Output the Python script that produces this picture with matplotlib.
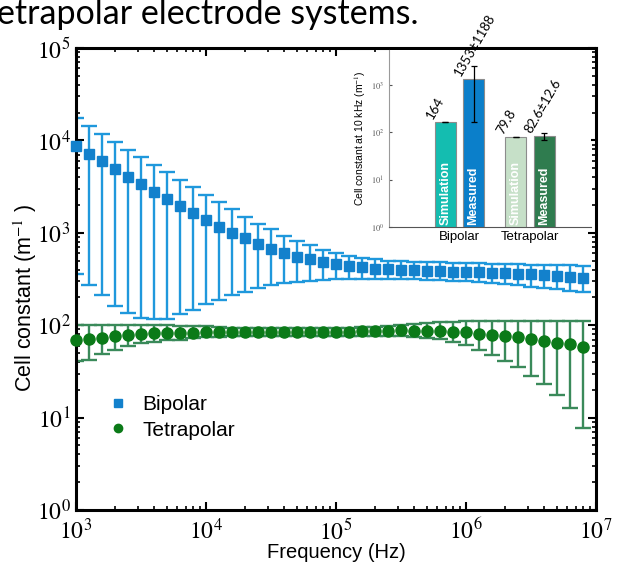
import matplotlib
matplotlib.use("Agg")
import matplotlib.pyplot as plt
import numpy as np
from matplotlib.ticker import FuncFormatter, LogLocator, NullFormatter

plt.rcParams['font.family'] = ['Liberation Sans', 'DejaVu Sans']
plt.rcParams['mathtext.fontset'] = 'stix'

# frequency points (log10 Hz)
log_freq = [3.0, 3.1, 3.2, 3.3, 3.4, 3.5, 3.6, 3.7, 3.8, 3.9,
            4.0, 4.1, 4.2, 4.3, 4.4, 4.5, 4.6, 4.7, 4.8, 4.9,
            5.0, 5.1, 5.2, 5.3, 5.4, 5.5, 5.6, 5.7, 5.8, 5.9,
            6.0, 6.1, 6.2, 6.3, 6.4, 6.5, 6.6, 6.7, 6.8, 6.9]

# bipolar: mean, lower and upper ends of the error bar
bip_mean = [8700, 7200, 6000, 4900, 4050, 3400, 2780, 2330, 1950, 1620,
            1380, 1170, 985, 870, 755, 665, 600, 553, 515, 482,
            460, 440, 423, 408, 402, 399, 393, 386, 386, 380,
            377, 373, 370, 364, 361, 356, 349, 343, 335, 327]
bip_low = [355, 275, 210, 163, 137, 121, 116, 117, 132, 145,
           168, 187, 210, 230, 255, 270, 285, 292, 300, 308,
           314, 316, 319, 319, 319, 316, 314, 311, 308, 303,
           298, 294, 287, 279, 270, 261, 253, 245, 236, 229]
bip_high = [17400, 14400, 11800, 9600, 7900, 6650, 5400, 4500, 3730, 3100,
            2570, 2140, 1800, 1490, 1250, 1090, 930, 820, 730, 655,
            605, 563, 530, 516, 499, 491, 486, 483, 479, 475,
            471, 467, 463, 459, 456, 452, 452, 449, 445, 440]

# tetrapolar
tet_mean = [70, 71, 73, 76, 79, 81, 82, 82, 82, 83,
            84, 84, 84, 84, 84, 84, 84, 84, 85, 85,
            85, 85, 86, 87, 87, 88, 87, 87, 87, 85,
            84, 80, 79, 77, 74, 71, 68, 65, 62, 58]
tet_low = [41, 42, 49, 54, 60, 64, 66, 69, 70, 72,
           74, 75, 76, 76, 77, 77, 77, 77, 77, 77,
           77, 76, 76, 76, 76, 76, 75, 73, 71, 66,
           61, 54, 48, 41, 35, 28, 23, 17.6, 12.8, 7.8]
tet_high = [101, 100, 100, 100, 100, 100, 100, 100, 99, 99,
            99, 96, 94, 94, 94, 94, 94, 94, 94, 94,
            94, 94, 95, 96, 98, 100, 103, 106, 107, 109,
            110, 112, 112, 112, 112, 112, 112, 111, 111, 111]

# inset: cell constant at 10 kHz
inset_groups = ['Bipolar', 'Tetrapolar']
inset_names = ['Simulation', 'Measured', 'Simulation', 'Measured']
inset_vals = [164, 1353, 79.8, 82.6]
inset_err = [0, 1188, 0, 12.6]
inset_text = ['164', '1353\u00b11188', '79.8', '82.6\u00b112.6']
inset_colors = ['#14bdb0', '#0b7fca', '#c6e0c8', '#2f7c4f']

fig = plt.figure(figsize=(6.2, 5.64), dpi=100)
ax = fig.add_axes([0.1226, 0.0957, 0.8387, 0.8192])

freq = 10 ** np.array(log_freq)

def err(mean, low, high):
    m = np.array(mean, dtype=float)
    return [m - np.array(low), np.array(high) - m]

ax.errorbar(freq, bip_mean, yerr=err(bip_mean, bip_low, bip_high), fmt='none',
            ecolor='#1f98dc', elinewidth=1.7, capsize=6, capthick=1.7, zorder=2)
ax.errorbar(freq, tet_mean, yerr=err(tet_mean, tet_low, tet_high), fmt='none',
            ecolor='#3a8a5a', elinewidth=1.7, capsize=6, capthick=1.7, zorder=2)
ax.plot(freq, bip_mean, ls='none', marker='s', ms=7.5, color='#1381cc',
        label='Bipolar', zorder=3, clip_on=False)
ax.plot(freq, tet_mean, ls='none', marker='o', ms=8, color='#0b7a18',
        label='Tetrapolar', zorder=3, clip_on=False)

ax.set_xscale('log')
ax.set_yscale('log')
ax.set_xlim(1e3, 1e7)
ax.set_ylim(1, 1e5)

fmt = FuncFormatter(lambda v, p: r'$10^{%d}$' % round(np.log10(v)))
ax.xaxis.set_major_formatter(fmt)
ax.yaxis.set_major_formatter(fmt)
ax.xaxis.set_minor_formatter(NullFormatter())
ax.yaxis.set_minor_formatter(NullFormatter())
ax.tick_params(which='both', direction='in', top=True, right=True, labelsize=17)
ax.tick_params(which='major', length=6, width=1.5)
ax.tick_params(which='minor', length=3, width=1.2)
ax.tick_params(axis='x', pad=6)
ax.tick_params(axis='y', pad=4)
for s in ax.spines.values():
    s.set_linewidth(2.2)

ax.set_xlabel('Frequency (Hz)', fontsize=14.5)
ax.xaxis.set_label_coords(0.5, -0.071)
ax.set_ylabel('Cell constant (m$^{-1}$ )', fontsize=15.5)
ax.yaxis.set_label_coords(-0.072, 0.46)

ax.legend(loc='center left', bbox_to_anchor=(0.063, 0.2), frameon=False,
          fontsize=15, handlelength=0.9, handletextpad=0.7,
          labelspacing=0.3, borderpad=0, borderaxespad=0, markerscale=0.75)

# inset bar chart
ins = fig.add_axes([0.627, 0.5975, 0.327, 0.314])
xpos = [0.8, 1.2, 1.8, 2.2]
ins.bar(xpos, inset_vals, width=0.3, color=inset_colors, edgecolor='#8c8c8c',
        linewidth=0.8, zorder=2)
ins.errorbar(xpos, inset_vals, yerr=inset_err, fmt='none', ecolor='black',
             elinewidth=0.9, capsize=2, capthick=0.9, zorder=3)
ins.set_yscale('log')
ins.set_ylim(1, 5500)
ins.set_xlim(0, 2.87)
ins.set_xticks([1, 2])
ins.set_xticklabels(inset_groups, fontsize=9.5)
ins.yaxis.set_major_locator(LogLocator(base=10, numticks=10))
ins.yaxis.set_major_formatter(fmt)
ins.yaxis.set_minor_formatter(NullFormatter())
ins.tick_params(axis='y', which='both', labelsize=6, colors='#555555', length=2, direction='in')
ins.tick_params(axis='y', which='minor', length=0)
ins.tick_params(axis='x', length=0, pad=3)
ins.spines['top'].set_visible(False)
ins.spines['right'].set_visible(False)
ins.spines['left'].set_color('#9a9a9a')
ins.spines['bottom'].set_color('#555555')
ins.set_ylabel('Cell constant at 10 kHz (m$^{-1}$)', fontsize=7.5, labelpad=2)

for xp, v, name, txt in zip(xpos, inset_vals, inset_names, inset_text):
    ins.text(xp, 1.12, name, rotation=90, ha='center', va='bottom', color='white',
             fontsize=9, fontweight='bold', zorder=4)
    ins.text(xp - 0.15, v * 1.05, txt, rotation=60, rotation_mode='anchor',
             ha='left', va='bottom', fontsize=9.5, family='Lato', zorder=4)

# cropped caption from the page
fig.text(-0.005, 0.958, 'etrapolar electrode systems.', fontsize=24.5,
         family='Lato', ha='left', va='baseline')

fig.savefig('out.png', dpi=100)
